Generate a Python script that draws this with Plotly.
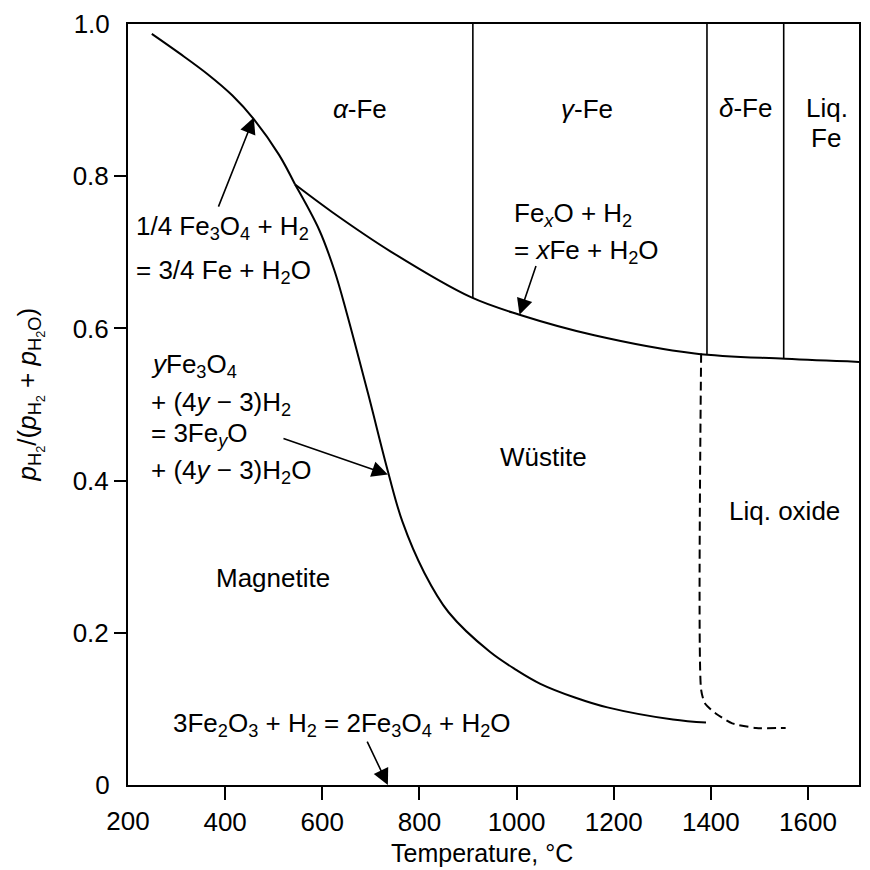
import plotly.graph_objects as go

# ---------------- data ----------------
# Fe3O4 / Fe boundary  (1/4 Fe3O4 + H2 = 3/4 Fe + H2O)
fe3o4_fe_T = [249, 307, 364, 415, 459, 511, 544]
fe3o4_fe_r = [0.987, 0.961, 0.934, 0.906, 0.875, 0.828, 0.789]

# FexO / Fe boundary  (FexO + H2 = xFe + H2O)
feo_fe_T = [544, 620, 741, 906, 1006, 1160, 1367, 1553, 1705]
feo_fe_r = [0.789, 0.753, 0.701, 0.641, 0.618, 0.591, 0.567, 0.560, 0.556]

# Fe3O4 / FeyO boundary
fe3o4_feo_T = [544, 594, 625, 650, 694, 736, 765, 810, 860, 945, 1000, 1049, 1120, 1187, 1322, 1390]
fe3o4_feo_r = [0.789, 0.729, 0.676, 0.621, 0.515, 0.410, 0.346, 0.279, 0.227, 0.175, 0.151,
               0.133, 0.115, 0.102, 0.086, 0.082]

# Liquid oxide boundary (dashed)
liq_oxide_T = [1380, 1380, 1388, 1410, 1444, 1493, 1554]
liq_oxide_r = [0.567, 0.125, 0.107, 0.094, 0.081, 0.075, 0.075]

# Fe allotropic transitions (vertical lines from the Fe/FeO boundary up to 1.0)
fe_transition_T = [910, 1392, 1550]
fe_transition_r_low = [0.640, 0.566, 0.560]
fe_transition_r_high = [1.0, 1.0, 1.0]

x_ticks = [400, 600, 800, 1000, 1200, 1400, 1600]
y_ticks = [0.2, 0.4, 0.6, 0.8]
y_ticklabels = ["0.2", "0.4", "0.6", "0.8"]
x_range = [200, 1705]
y_range = [0, 1.0]

x_title = "Temperature, °C"
y_title = ("<i>p</i><sub>H<sub>2</sub></sub>/(<i>p</i><sub>H<sub>2</sub></sub> + "
           "<i>p</i><sub>H<sub>2</sub>O</sub>)")

FONT = "Liberation Sans, Arial, Helvetica, sans-serif"
FS = 26
LW = 2

fig = go.Figure()

line_style = dict(color="black", width=LW, shape="spline", smoothing=1.0)
fig.add_trace(go.Scatter(x=fe3o4_fe_T, y=fe3o4_fe_r, mode="lines", line=line_style, hoverinfo="skip"))
fig.add_trace(go.Scatter(x=feo_fe_T, y=feo_fe_r, mode="lines", line=line_style, hoverinfo="skip"))
fig.add_trace(go.Scatter(x=fe3o4_feo_T, y=fe3o4_feo_r, mode="lines", line=line_style, hoverinfo="skip"))
fig.add_trace(go.Scatter(x=liq_oxide_T, y=liq_oxide_r, mode="lines",
                         line=dict(color="black", width=LW, dash="9px,5px", shape="spline", smoothing=0.6),
                         hoverinfo="skip"))
for t, lo, hi in zip(fe_transition_T, fe_transition_r_low, fe_transition_r_high):
    fig.add_trace(go.Scatter(x=[t, t], y=[lo, hi], mode="lines",
                             line=dict(color="black", width=1.6), hoverinfo="skip"))

# invisible trace for the overlay axes carrying end labels
fig.add_trace(go.Scatter(x=[1000], y=[0.5], xaxis="x2", yaxis="y2", mode="markers",
                         marker=dict(opacity=0), hoverinfo="skip"))

# ---------------- text labels ----------------
labels = [
    # (text, x, y, xanchor)
    ("1/4 Fe<sub>3</sub>O<sub>4</sub> + H<sub>2</sub>", 213, 0.733, "left"),
    ("= 3/4 Fe + H<sub>2</sub>O", 213, 0.675, "left"),
    ("<i>y</i>Fe<sub>3</sub>O<sub>4</sub>", 243, 0.551, "left"),
    ("+ (4<i>y</i> − 3)H<sub>2</sub>", 243, 0.501, "left"),
    ("= 3Fe<sub><i>y</i></sub>O", 243, 0.460, "left"),
    ("+ (4<i>y</i> − 3)H<sub>2</sub>O", 243, 0.412, "left"),
    ("Fe<sub><i>x</i></sub>O + H<sub>2</sub>", 991, 0.750, "left"),
    ("= <i>x</i>Fe + H<sub>2</sub>O", 991, 0.701, "left"),
    ("<i>α</i>-Fe", 677, 0.888, "center"),
    ("<i>γ</i>-Fe", 1146, 0.888, "center"),
    ("<i>δ</i>-Fe", 1471, 0.890, "center"),
    ("Liq.", 1639, 0.889, "center"),
    ("Fe", 1637, 0.850, "center"),
    ("Wüstite", 1056, 0.431, "center"),
    ("Liq. oxide", 1551, 0.360, "center"),
    ("Magnetite", 499, 0.272, "center"),
    ("3Fe<sub>2</sub>O<sub>3</sub> + H<sub>2</sub> = 2Fe<sub>3</sub>O<sub>4</sub> + H<sub>2</sub>O", 640, 0.080, "center"),
]

annotations = []
for txt, x, y, xa in labels:
    annotations.append(dict(text=txt, x=x, y=y, xref="x", yref="y", xanchor=xa, yanchor="middle",
                            showarrow=False, font=dict(family=FONT, size=FS, color="black")))

# axis titles as paper-positioned annotations
annotations.append(dict(text=x_title, x=0.484, y=-0.089, xref="paper", yref="paper",
                        xanchor="center", yanchor="middle", showarrow=False,
                        font=dict(family=FONT, size=25, color="black")))
annotations.append(dict(text=y_title, x=-0.134, y=0.512, xref="paper", yref="paper",
                        xanchor="center", yanchor="middle", showarrow=False, textangle=-90,
                        font=dict(family=FONT, size=26, color="black")))

# arrows: (head_x, head_y, tail_x, tail_y)
arrows = [
    (459, 0.877, 385, 0.758),
    (1006, 0.618, 1041, 0.684),
    (735, 0.408, 517, 0.456),
    (735, 0.0, 691, 0.059),
]
for hx, hy, tx, ty in arrows:
    annotations.append(dict(x=hx, y=hy, ax=tx, ay=ty, xref="x", yref="y", axref="x", ayref="y",
                            text="", showarrow=True, arrowhead=2, arrowsize=2.0, arrowwidth=1.6,
                            arrowcolor="black", standoff=0, startstandoff=0))

axis_common = dict(showgrid=False, zeroline=False, automargin=False)

fig.update_layout(
    width=870, height=870,
    margin=dict(l=128, r=11, t=24, b=85),
    plot_bgcolor="white", paper_bgcolor="white",
    showlegend=False,
    font=dict(family=FONT, size=FS, color="black"),
    xaxis=dict(range=x_range, tickvals=x_ticks, ticks="outside", ticklen=13, tickwidth=2,
               tickcolor="black", showline=True, linewidth=2, linecolor="black", mirror=True,
               tickfont=dict(family=FONT, size=FS, color="black"), **axis_common),
    yaxis=dict(range=y_range, tickvals=y_ticks, ticktext=y_ticklabels, ticks="outside", ticklen=12,
               tickwidth=2, tickcolor="black", showline=True, linewidth=2, linecolor="black",
               mirror=True, tickfont=dict(family=FONT, size=FS, color="black"), **axis_common),
    xaxis2=dict(range=x_range, overlaying="x", anchor="y2", tickvals=[200], ticktext=["200"],
                ticks="outside", ticklen=13, tickcolor="rgba(0,0,0,0)", showline=False,
                tickfont=dict(family=FONT, size=FS, color="black"), **axis_common),
    yaxis2=dict(range=y_range, overlaying="y", anchor="x2", tickvals=[0, 1.0], ticktext=["0", "1.0"],
                ticks="outside", ticklen=12, tickcolor="rgba(0,0,0,0)", showline=False,
                tickfont=dict(family=FONT, size=FS, color="black"), **axis_common),
    annotations=annotations,
)

fig.write_html("out.html")
